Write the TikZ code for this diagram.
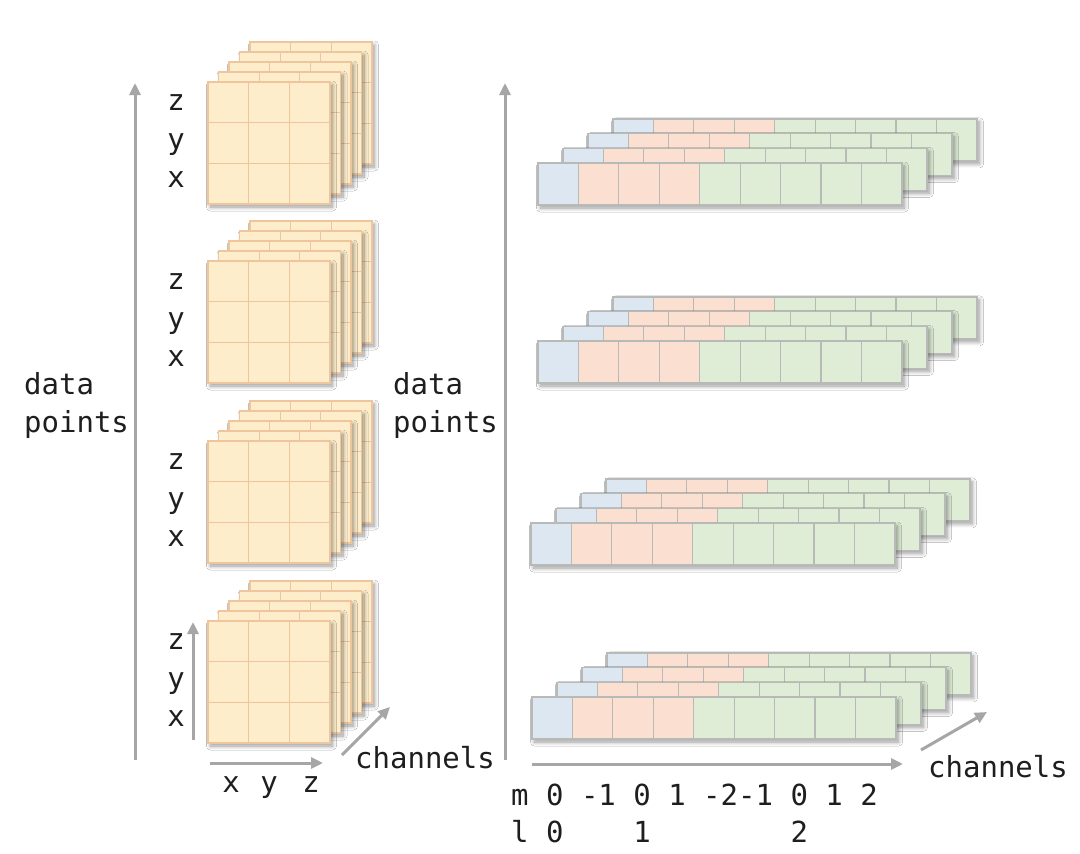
\documentclass[tikz,border=0pt]{standalone}
\usepackage{fontspec}
\setmonofont{DejaVu Sans Mono}
\usetikzlibrary{arrows.meta,shadows.blur}
\definecolor{panelfill}{HTML}{FDEDCB}
\definecolor{panelline}{HTML}{EEC59C}
\definecolor{cellblue}{HTML}{DDE7F2}
\definecolor{cellorange}{HTML}{FBE0D1}
\definecolor{cellgreen}{HTML}{DFEDD7}
\definecolor{cellline}{HTML}{B7BAB6}
\definecolor{axisgray}{HTML}{A6A6A6}
\definecolor{txt}{HTML}{1E1E1E}
\tikzset{
  axis/.style={draw=axisgray, line width=3pt, -{Triangle[length=12pt,width=11pt]}},
  lbl/.style={font=\ttfamily\fontsize{29}{34}\selectfont, text=txt, inner sep=0pt},
  panel/.style={fill=panelfill, draw=panelline, line width=1.2pt,
    blur shadow={shadow xshift=2.5pt, shadow yshift=-3pt, shadow blur radius=4pt, shadow blur steps=10, shadow opacity=40}},
  gridln/.style={draw=panelline, line width=1.2pt},
  rowshadow/.style={fill=white,
    blur shadow={shadow xshift=2.5pt, shadow yshift=-3pt, shadow blur radius=4pt, shadow blur steps=10, shadow opacity=40}},
  cellbox/.style={draw=cellline, line width=1.2pt},
}
\newcommand{\panelstack}[2]{%
  \foreach \k in {4,3,2,1,0}{%
    \pgfmathsetmacro{\px}{#1+10.5*\k}%
    \pgfmathsetmacro{\py}{#2-10*\k}%
    \path[panel] (\px,\py) rectangle ++(122,122);
    \draw[gridln] (\px+40.67,\py) -- ++(0,122) (\px+81.33,\py) -- ++(0,122)
      (\px,\py+40.67) -- ++(122,0) (\px,\py+81.33) -- ++(122,0);
  }}
\newcommand{\rowstack}[2]{%
  \foreach \k in {3,2,1,0}{%
    \pgfmathsetmacro{\rx}{#1+25*\k}%
    \pgfmathsetmacro{\ry}{#2-14.7*\k}%
    \path[rowshadow] (\rx,\ry) rectangle ++(364,42);
    \foreach \i in {0,...,8}{%
      \ifnum\i=0 \def\cc{cellblue}\else\ifnum\i<4 \def\cc{cellorange}\else\def\cc{cellgreen}\fi\fi
      \path[cellbox, fill=\cc] (\rx+40.44*\i,\ry) rectangle ++(40.44,42);
    }
  }}
\begin{document}
\begin{tikzpicture}[x=1pt,y=-1pt]
\useasboundingbox (0,0) rectangle (1080,854);
\fill[white] (0,0) rectangle (1080,854);

% left panel stacks
\panelstack{208}{82}
\panelstack{208}{261}
\panelstack{208}{441}
\panelstack{208}{621}

% right row stacks
\rowstack{538}{163}
\rowstack{538}{341}
\rowstack{531}{523}
\rowstack{532}{697}

% z y x labels
\foreach \n/\t in {1/82,2/261,3/441,4/621}{
  \node[lbl, anchor=base] (z\n) at (176,\t+28) {z};
  \node[lbl, anchor=base] (y\n) at (176,\t+67) {y};
  \node[lbl, anchor=base] (x\n) at (176,\t+105) {x};
}

% axes
\coordinate (a1s) at (135,760); \coordinate (a1e) at (135,83);
\coordinate (a2s) at (505,760); \coordinate (a2e) at (505,83);
\coordinate (a3s) at (193,740); \coordinate (a3e) at (193,622);
\coordinate (a4s) at (210,763); \coordinate (a4e) at (323,763);
\coordinate (a5s) at (342,755); \coordinate (a5e) at (390,707);
\coordinate (a6s) at (532,764); \coordinate (a6e) at (903,764);
\coordinate (a7s) at (921,750); \coordinate (a7e) at (987,712);
\draw[axis] (a1s) -- (a1e);
\draw[axis] (a2s) -- (a2e);
\draw[axis] (a3s) -- (a3e);
\draw[axis] (a4s) -- (a4e);
\draw[axis] (a5s) -- (a5e);
\draw[axis] (a6s) -- (a6e);
\draw[axis] (a7s) -- (a7e);

% texts
\node[lbl, anchor=base west] (dl1) at (24,394) {data};
\node[lbl, anchor=base west] (dl2) at (24,432) {points};
\node[lbl, anchor=base west] (dm1) at (393,394) {data};
\node[lbl, anchor=base west] (dm2) at (393,432) {points};
\node[lbl, anchor=base] (bx) at (231,792) {x};
\node[lbl, anchor=base] (by) at (269,792) {y};
\node[lbl, anchor=base] (bz) at (311,792) {z};
\node[lbl, anchor=base west] (ch1) at (355,768) {channels};
\node[lbl, anchor=base west] (ch2) at (928,777) {channels};
\node[lbl, anchor=base west] (mline) at (511,805) {m 0 -1 0 1 -2-1 0 1 2};
\node[lbl, anchor=base west] (lline) at (511,842) {l 0\ \ \ \ 1\ \ \ \ \ \ \ \ 2};
\end{tikzpicture}
\end{document}
